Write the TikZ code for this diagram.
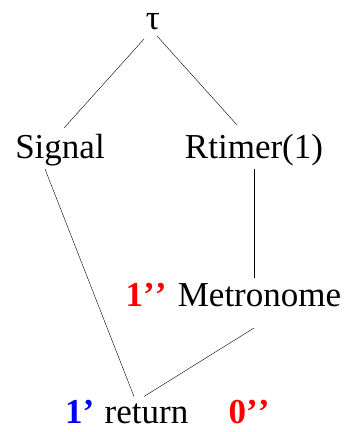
\documentclass[tikz,border=0pt]{standalone}
\usepackage{fontspec}
\setmainfont{Liberation Serif}
\usepackage{tikz}
\usepackage{xcolor}
\definecolor{marknred}{RGB}{255,0,0}
\definecolor{marknblue}{RGB}{0,0,255}

\begin{document}
\begin{tikzpicture}[x=1pt, y=1pt,
    txt/.style={inner sep=0pt, anchor=base, font=\fontsize{35}{42}\selectfont},
    timemark/.style={txt, font=\fontsize{35}{42}\selectfont\bfseries}]
    \useasboundingbox (0,0) rectangle (346,432);
    % tree nodes
    \node[txt] (tau) at (153,402) {τ};
    \node[txt] (signal) at (60,273) {Signal};
    \node[txt] (rtimer) at (254,273) {Rtimer(1)};
    \node[txt] (metro) at (259.5,125) {Metronome};
    \node[txt] (ret) at (146.5,8.5) {return};
    % marks
    \node[timemark, marknred, anchor=base east] (metromark) at ([xshift=-11pt]metro.base west) {1’\kern0pt’};
    \node[timemark, marknblue, anchor=base east] (retmark) at ([xshift=-10pt]ret.base west) {1’};
    \node[timemark, marknred, anchor=base west] (retmark2) at ([xshift=40pt]ret.base east) {0’\kern0pt’};
    % edges
    \draw ([xshift=-9pt,yshift=-9pt]tau.base) -- ([xshift=4pt,yshift=31pt]signal.base);
    \draw ([xshift=4pt,yshift=-6pt]tau.base) -- ([xshift=-17pt,yshift=34pt]rtimer.base);
    \draw ([xshift=-15pt,yshift=-10pt]signal.base) -- ([xshift=-12.5pt,yshift=27pt]ret.base);
    \draw ([yshift=-10pt]rtimer.base) -- ([xshift=-5.5pt,yshift=29pt]metro.base);
    \draw ([xshift=-5.5pt,yshift=-21pt]metro.base) -- ([xshift=-2.5pt,yshift=27pt]ret.base);
\end{tikzpicture}
\end{document}
